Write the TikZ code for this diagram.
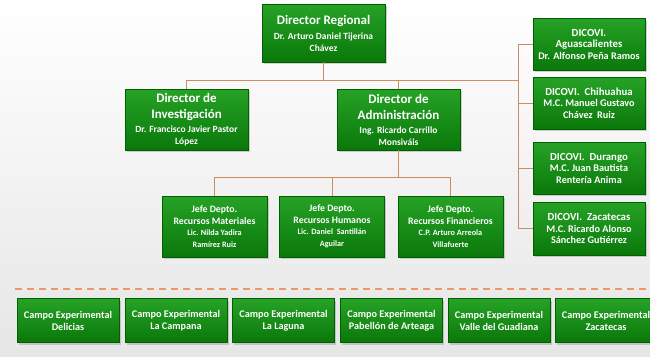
\documentclass[tikz,border=0pt]{standalone}
\usepackage{fontspec}
\setmainfont{Carlito}
\usetikzlibrary{shadows}
\definecolor{gtop}{RGB}{38,162,38}
\definecolor{gbot}{RGB}{10,120,10}
\definecolor{gedge}{RGB}{0,95,0}
\definecolor{lineor}{RGB}{205,140,95}
\definecolor{dashor}{RGB}{238,150,100}
\definecolor{bgbot}{RGB}{230,230,230}
\newcommand\ftBig{\fontsize{13}{15}\selectfont\bfseries}
\newcommand\ftName{\fontsize{9.5}{12}\selectfont\bfseries}
\newcommand\ftJt{\fontsize{9.8}{11.5}\selectfont\bfseries}
\newcommand\ftJn{\fontsize{8.2}{11.5}\selectfont\bfseries}
\newcommand\ftDt{\fontsize{10.8}{11.5}\selectfont\bfseries}
\newcommand\ftDn{\fontsize{10.2}{11.5}\selectfont\bfseries}
\newcommand\ftCa{\fontsize{10.2}{12}\selectfont\bfseries}
\begin{document}
\begin{tikzpicture}[x=1pt,y=-1pt,
  gbox/.style={draw=gedge, line width=0.4pt, top color=gtop, bottom color=gbot,
    text=white, align=center, inner sep=1pt, font=\fontsize{10}{12}\selectfont,
    drop shadow={shadow xshift=1.5pt, shadow yshift=-2pt, opacity=0.35}},
  tight/.style={font=\fontsize{10}{11.5}\selectfont},
  conn/.style={draw=lineor, line width=0.8pt},
  dashline/.style={draw=dashor, line width=1.2pt, dash pattern=on 7pt off 5pt}]
\useasboundingbox (0,0) rectangle (650,356);
\shade[top color=white, bottom color=bgbot] (0,0) rectangle (650,356);

% top level
\node[gbox, minimum width=123pt, minimum height=58pt] (dr) at (323.5,33)
  {{\ftBig Director Regional}\\[3pt]{\ftName Dr. Arturo Daniel Tijerina}\\{\ftName Chávez}};
\node[gbox, minimum width=123pt, minimum height=61pt] (di) at (186.5,119.5)
  {{\ftBig Director de}\\[4pt]{\ftBig Investigación}\\[2pt]{\ftName Dr. Francisco Javier Pastor}\\{\ftName López}};
\node[gbox, minimum width=123pt, minimum height=61pt] (da) at (398.5,119.5)
  {{\ftBig Director de}\\[4pt]{\ftBig Administración}\\[2pt]{\ftName Ing. Ricardo Carrillo}\\{\ftName Monsiváis}};

% jefes
\node[gbox, tight, minimum width=105pt, minimum height=61pt] (j1) at (214.5,226.5)
  {{\ftJt Jefe Depto.}\\{\ftJt Recursos Materiales}\\{\ftJn Lic. Nilda Yadira}\\{\ftJn Ramírez Ruiz}};
\node[gbox, tight, minimum width=105pt, minimum height=61pt] (j2) at (332,226.5)
  {{\ftJt Jefe Depto.}\\{\ftJt Recursos Humanos}\\{\ftJn Lic. Daniel \ Santillán}\\{\ftJn Aguilar}};
\node[gbox, tight, minimum width=105pt, minimum height=61pt] (j3) at (450.5,226.5)
  {{\ftJt Jefe Depto.}\\{\ftJt Recursos Financieros}\\{\ftJn C.P. Arturo Arreola}\\{\ftJn Villafuerte}};

% DICOVI
\node[gbox, tight, minimum width=112pt, minimum height=52pt] (dc1) at (589,44)
  {{\ftDt DICOVI.}\\{\ftDt Aguascalientes}\\{\ftDn Dr. Alfonso Peña Ramos}};
\node[gbox, tight, minimum width=112pt, minimum height=52pt] (dc2) at (589,103)
  {{\ftDt DICOVI. \ Chihuahua}\\{\ftDn M.C. Manuel Gustavo}\\{\ftDn Chávez \ Ruiz}};
\node[gbox, tight, minimum width=112pt, minimum height=52pt] (dc3) at (589,168)
  {{\ftDt DICOVI. \ Durango}\\{\ftDn M.C. Juan Bautista}\\{\ftDn Rentería Anima}};
\node[gbox, tight, minimum width=112pt, minimum height=53pt] (dc4) at (589,228.5)
  {{\ftDt DICOVI. \ Zacatecas}\\{\ftDn M.C. Ricardo Alonso}\\{\ftDn Sánchez Gutiérrez}};

% connectors
\coordinate (hA) at (0,80);
\coordinate (trk) at (518,0);
\coordinate (hB) at (0,177);
\draw[conn] (dr.south) -- (dr.south |- hA);
\draw[conn] (di.north) |- (hA -| trk);
\draw[conn] (da.north) -- (da.north |- hA);
\draw[conn] (dc1.west -| trk) -- (dc4.west -| trk);
\draw[conn] (dc1.west) -- (dc1.west -| trk);
\draw[conn] (dc2.west) -- (dc2.west -| trk);
\draw[conn] (dc3.west) -- (dc3.west -| trk);
\draw[conn] (dc4.west) -- (dc4.west -| trk);
\draw[conn] (da.south) -- (da.south |- hB);
\draw[conn] (j1.north) |- (j3.north |- hB) -- (j3.north);
\draw[conn] (j2.north) -- (j2.north |- hB);

% dashed separator
\coordinate (dsL) at (15,289);
\coordinate (dsR) at (650,289);
\draw[dashline] (dsL) -- (dsR);

% campos
\node[gbox, minimum width=102pt, minimum height=44pt] (c1) at (68,320.5)
  {{\ftCa Campo Experimental}\\{\ftCa Delicias}};
\node[gbox, minimum width=102pt, minimum height=44pt] (c2) at (176,320.5)
  {{\ftCa Campo Experimental}\\{\ftCa La Campana}};
\node[gbox, minimum width=102pt, minimum height=44pt] (c3) at (283.5,320.5)
  {{\ftCa Campo Experimental}\\{\ftCa La Laguna}};
\node[gbox, minimum width=102pt, minimum height=44pt] (c4) at (391.5,320.5)
  {{\ftCa Campo Experimental}\\{\ftCa Pabellón de Arteaga}};
\node[gbox, minimum width=102pt, minimum height=44pt] (c5) at (499,320.5)
  {{\ftCa Campo Experimental}\\{\ftCa Valle del Guadiana}};
\node[gbox, minimum width=102pt, minimum height=44pt] (c6) at (606,320.5)
  {{\ftCa Campo Experimental}\\{\ftCa Zacatecas}};
\end{tikzpicture}
\end{document}
